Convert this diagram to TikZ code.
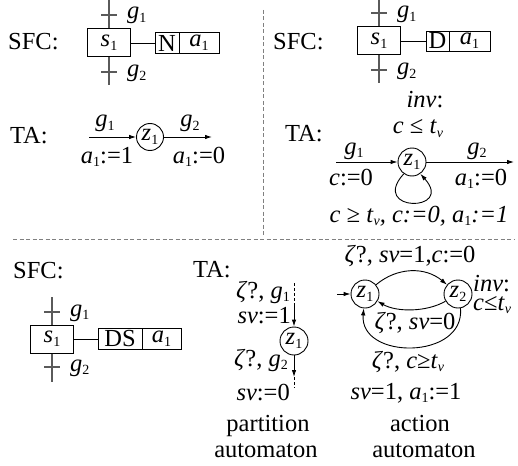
\documentclass[tikz,border=0pt]{standalone}
\usepackage{fontspec}
\setmainfont{Liberation Serif}
\usetikzlibrary{arrows.meta}
\newcommand\sbs[1]{\raisebox{-0.15em}{\fontsize{14}{14}\selectfont #1}}
\newcommand\vr[2]{\textit{#1}\sbs{#2}}
\newcommand\fz{\fontsize{24.5}{28}\selectfont}
\definecolor{sfcgray}{HTML}{5A5A5A}
\definecolor{divgray}{HTML}{808080}
\begin{document}
\begin{tikzpicture}[x=1pt,y=-1pt,
  lbl/.style={inner sep=0pt, font=\fz},
  sfcline/.style={draw=sfcgray, line width=1.3pt},
  stepbox/.style={draw, line width=1pt, minimum width=43pt, minimum height=28pt, inner sep=0pt, font=\fz},
  actcell/.style={draw, line width=0.9pt, minimum height=21pt, inner sep=0pt, font=\fz},
  state/.style={draw, circle, minimum size=27pt, inner sep=0pt, line width=0.9pt, font=\fz},
  arr/.style={-{Latex[length=7pt,width=4.5pt]}, line width=0.9pt},
  conn/.style={line width=0.9pt},
  divider/.style={draw=divgray, line width=1pt, dash pattern=on 4pt off 2.5pt}]
\useasboundingbox (0,0) rectangle (518,465);

% ---------- dividers
\draw[divider] (263,10) -- (263,235);
\draw[divider] (13,239) -- (515,239);

% ---------- top-left SFC (N)
\node[lbl, anchor=base west] (sfcA) at (8,50) {SFC:};
\node[stepbox] (sA) at (109,43) {\vr{s}{1}};
\coordinate (sAtop) at (109,0);
\coordinate (sAbot) at (109,85);
\draw[sfcline] (sAtop) -- (sA.north);
\draw[sfcline] (sA.south) -- (sAbot);
\draw[sfcline] (101,15) -- (117,15);
\draw[sfcline] (101,72) -- (117,72);
\node[lbl, anchor=base west] (gA1) at (127,19) {\vr{g}{1}};
\node[lbl, anchor=base west] (gA2) at (127,77) {\vr{g}{2}};
\node[actcell, minimum width=24pt] (nA) at (167,43) {N};
\node[actcell, minimum width=40pt] (aA) at (199,43) {\vr{a}{1}};
\draw[conn] (sA.east) -- (nA.west);

% ---------- top-left TA
\node[lbl, anchor=base west] (taA) at (10,143) {TA:};
\node[state] (zA) at (150,137) {\vr{z}{1}};
\coordinate (zAin) at (89,137);
\coordinate (zAout) at (212,137);
\draw[arr] (zAin) -- (zA);
\draw[arr] (zA) -- (zAout);
\node[lbl, anchor=base] (tgA1) at (105,127) {\vr{g}{1}};
\node[lbl, anchor=base] (taA1) at (107,163) {\vr{a}{1}:=1};
\node[lbl, anchor=base] (tgA2) at (190,127) {\vr{g}{2}};
\node[lbl, anchor=base] (taA0) at (199,163) {\vr{a}{1}:=0};

% ---------- top-right SFC (D)
\node[lbl, anchor=base west] (sfcB) at (273,50) {SFC:};
\node[stepbox] (sB) at (379,41) {\vr{s}{1}};
\coordinate (sBtop) at (379,0);
\coordinate (sBbot) at (379,83);
\draw[sfcline] (sBtop) -- (sB.north);
\draw[sfcline] (sB.south) -- (sBbot);
\draw[sfcline] (371,13) -- (387,13);
\draw[sfcline] (371,70) -- (387,70);
\node[lbl, anchor=base west] (gB1) at (397,18) {\vr{g}{1}};
\node[lbl, anchor=base west] (gB2) at (397,75) {\vr{g}{2}};
\node[actcell, minimum width=23pt, minimum height=20pt] (dB) at (437.5,41) {D};
\node[actcell, minimum width=41pt, minimum height=20pt] (aB) at (469.5,41) {\vr{a}{1}};
\draw[conn] (sB.east) -- (dB.west);

% ---------- top-right TA
\node[lbl, anchor=base west] (taB) at (285,142) {TA:};
\node[lbl, anchor=base] (invB) at (425,108) {\textit{inv}:};
\node[lbl, anchor=base] (invBc) at (418,134) {\textit{c} ≤ \textit{t}\sbs{\textit{v}}};
\node[state, minimum size=28pt] (zB) at (412,162) {\vr{z}{1}};
\coordinate (zBin) at (336,162);
\coordinate (zBout) at (514,162);
\draw[arr] (zBin) -- (zB);
\draw[arr] (zB) -- (zBout);
\draw[arr] (zB.-125) .. controls +(-132:52pt) and +(-48:52pt) .. (zB.-55);
\node[lbl, anchor=base] (tgB1) at (354,154) {\vr{g}{1}};
\node[lbl, anchor=base] (tcB) at (351,185) {\textit{c}:=0};
\node[lbl, anchor=base] (tgB2) at (477,154) {\vr{g}{2}};
\node[lbl, anchor=base] (taB0) at (481,185) {\vr{a}{1}:=0};
\node[lbl, anchor=base] (loopB) at (419,222) {\textit{c ≥ t}\sbs{\textit{v}}\textit{, c:=0, a}\sbs{1}\textit{:=1}};

% ---------- bottom-left SFC (DS)
\node[lbl, anchor=base west] (sfcC) at (13,278) {SFC:};
\node[stepbox] (sC) at (52,339) {\vr{s}{1}};
\coordinate (sCtop) at (52,297);
\coordinate (sCbot) at (52,382);
\draw[sfcline] (sCtop) -- (sC.north);
\draw[sfcline] (sC.south) -- (sCbot);
\draw[sfcline] (44,312) -- (60,312);
\draw[sfcline] (44,367) -- (60,367);
\node[lbl, anchor=base west] (gC1) at (70,316) {\vr{g}{1}};
\node[lbl, anchor=base west] (gC2) at (70,371) {\vr{g}{2}};
\node[actcell, minimum width=44pt] (dsC) at (120,339) {DS};
\node[actcell, minimum width=39pt] (aC) at (161.5,339) {\vr{a}{1}};
\draw[conn] (sC.east) -- (dsC.west);

% ---------- bottom partition automaton
\node[lbl, anchor=base west] (taC) at (193,277) {TA:};
\node[state, minimum size=28pt] (zP) at (294,341) {\vr{z}{1}};
\coordinate (pInA) at (294,283);
\coordinate (pInB) at (294,305);
\coordinate (pOutA) at (294,377);
\coordinate (pOutB) at (294,388);
\draw[conn, dash pattern=on 3pt off 2pt] (pInA) -- (pInB);
\draw[arr] (pInB) -- (zP);
\draw[arr] (zP) -- (pOutA);
\draw[conn, dash pattern=on 3pt off 2pt] (pOutA) -- (pOutB);
\node[lbl, anchor=base east] (pl1) at (290,298) {\textit{ζ}?, \vr{g}{1}};
\node[lbl, anchor=base east] (pl2) at (291,323) {\textit{sv}:=1};
\node[lbl, anchor=base east] (pl3) at (288,366) {\textit{ζ}?, \vr{g}{2}};
\node[lbl, anchor=base east] (pl4) at (290,400) {\textit{sv}:=0};
\node[lbl, anchor=base] (pcap1) at (268,431) {partition};
\node[lbl, anchor=base] (pcap2) at (266,457) {automaton};

% ---------- bottom action automaton
\node[state, minimum size=28pt] (z1) at (365,294) {\vr{z}{1}};
\node[state, minimum size=28pt] (z2) at (458,294) {\vr{z}{2}};
\coordinate (aInit) at (337,294);
\draw[arr] (aInit) -- (z1);
\draw[arr] (z1.40) .. controls +(40:28pt) and +(140:28pt) .. (z2.140);
\draw[arr] (z2.-150) .. controls +(-150:22pt) and +(-30:22pt) .. (z1.-30);
\draw[arr] (z2.-80) .. controls +(-85:52pt) and +(-95:52pt) .. (z1.-95);
\node[lbl, anchor=base] (al1) at (410,262) {\textit{ζ}?, \textit{sv}=1,\textit{c}:=0};
\node[lbl, anchor=base west] (ainv) at (473,291) {\textit{inv}:};
\node[lbl, anchor=base west] (ainvc) at (473,310) {\textit{c}≤\textit{t}\sbs{\textit{v}}};
\node[lbl, anchor=base] (al2) at (415,329) {\textit{ζ}?, \textit{sv}=0};
\node[lbl, anchor=base] (al3) at (408,368) {\textit{ζ}?, \textit{c}≥\textit{t}\sbs{\textit{v}}};
\node[lbl, anchor=base] (al4) at (406,399) {\textit{sv}=1, \vr{a}{1}:=1};
\node[lbl, anchor=base] (acap1) at (420,431) {action};
\node[lbl, anchor=base] (acap2) at (424,457) {automaton};
\end{tikzpicture}
\end{document}
